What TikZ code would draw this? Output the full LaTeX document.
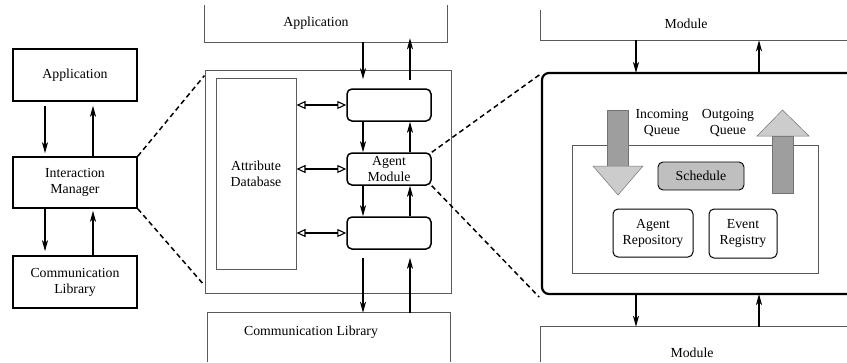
\documentclass[tikz,border=0pt]{standalone}
\usepackage{fontspec}
\setmainfont{Liberation Serif}
\usetikzlibrary{positioning,arrows.meta,calc}

\begin{document}
\begin{tikzpicture}[x=1pt,y=-1pt,
    font=\fontsize{13.8}{16}\selectfont,
    box/.style={draw,line width=1.5pt,align=center,inner sep=0pt},
    thinbox/.style={draw=black!65,line width=1pt,align=center,inner sep=0pt},
    rbox/.style={draw,line width=1.5pt,rounded corners=5pt,align=center,inner sep=0pt},
    openbox/.style={align=center,inner sep=0pt},
    sarr/.style={line width=1.5pt,-{Stealth[length=11pt,width=6pt,inset=3pt]}},
    dbarr/.style={line width=1.1pt,{Triangle[open,length=9pt,width=8pt]}-{Triangle[open,length=9pt,width=8pt]}},
    zoomln/.style={line width=1.5pt,dash pattern=on 5pt off 3.5pt},
    shaft/.style={fill=black!38,draw=black!55,line width=0.5pt},
    head/.style={fill=black!20,draw=black!55,line width=0.5pt}]
  \useasboundingbox (0,0) rectangle (847,362);

  % left column
  \node[box,minimum width=124,minimum height=52] (lapp) at (75,75) {Application};
  \node[box,minimum width=124,minimum height=51] (im) at (75,182.5) {Interaction\\Manager};
  \node[box,minimum width=124,minimum height=52] (lcom) at (75,282) {Communication\\Library};
  \coordinate (ldn) at (45,0);
  \coordinate (lup) at (93,0);
  \draw[sarr,shorten <=4pt,shorten >=3pt] (lapp.south -| ldn) -- (im.north -| ldn);
  \draw[sarr,shorten >=4pt] (im.north -| lup) -- (lapp.south -| lup);
  \draw[sarr,shorten >=4pt] (im.south -| ldn) -- (lcom.north -| ldn);
  \draw[sarr,shorten >=2pt] (lcom.north -| lup) -- (im.south -| lup);

  % middle: interaction manager
  \node[openbox,minimum width=242,minimum height=37,
        label={[xshift=-10pt]center:Application}] (mapp) at (326,23.5) {};
  \draw[thinbox] (mapp.north west) |- (mapp.south east) -- (mapp.north east);
  \node[openbox,minimum width=242,minimum height=49,
        label={[xshift=-18pt,yshift=5pt]center:Communication Library}] (mcom) at (329,337.5) {};
  \draw[thinbox] (mcom.south west) |- (mcom.north east) -- (mcom.south east);

  \node[thinbox,minimum width=246,minimum height=223] (mid) at (328,181.5) {};
  \node[thinbox,minimum width=80,minimum height=191] (adb) at (256,173.5) {Attribute\\Database};
  \node[rbox,minimum width=84,minimum height=32] (ag1) at (389,105) {};
  \node[rbox,minimum width=84,minimum height=32] (agm) at (389,169) {Agent\\Module};
  \node[rbox,minimum width=84,minimum height=32] (ag3) at (389,233) {};

  \coordinate (mdn) at (363,0);
  \coordinate (mup) at (410,0);
  \draw[sarr,shorten >=9pt] (mapp.south -| mdn) -- (ag1.north -| mdn);
  \draw[sarr,shorten <=8pt,shorten >=-4pt] (ag1.north -| mup) -- (mapp.south -| mup);
  \draw[sarr] (ag1.south -| mdn) -- (agm.north -| mdn);
  \draw[sarr] (agm.north -| mup) -- (ag1.south -| mup);
  \draw[sarr] (agm.south -| mdn) -- (ag3.north -| mdn);
  \draw[sarr] (ag3.north -| mup) -- (agm.south -| mup);
  \draw[sarr,shorten <=8pt] (ag3.south -| mdn) -- (mcom.north -| mdn);
  \draw[sarr,shorten >=8pt] (mcom.north -| mup) -- (ag3.south -| mup);

  \draw[dbarr] (adb.east |- ag1) -- (ag1.west);
  \draw[dbarr] (adb.east |- agm) -- (agm.west);
  \draw[dbarr] (adb.east |- ag3) -- (ag3.west);

  \draw[zoomln] (im.north east) -- ([yshift=-6pt]mid.north west);
  \draw[zoomln] (im.south east) -- ([yshift=8pt]mid.south west);

  % right: agent module
  \node[openbox,minimum width=306,minimum height=30,
        label={[xshift=-8pt,yshift=1pt]center:Module}] (rmodt) at (694,25) {};
  \draw[thinbox] (rmodt.north west) |- (rmodt.south east);
  \node[openbox,minimum width=306,minimum height=35,
        label={[xshift=-2pt,yshift=-8.5pt]center:Module}] (rmodb) at (694,344.5) {};
  \draw[thinbox] (rmodb.south west) |- (rmodb.north east);

  \coordinate (rtl) at (542,73);
  \coordinate (rbl) at (542,294);
  \draw[line width=2.2pt,rounded corners=7pt] (847,73) -- (rtl) -- (rbl) -- (847,294);

  \coordinate (rdn) at (636,0);
  \coordinate (rup) at (759,0);
  \draw[sarr] (rmodt.south -| rdn) -- (rtl -| rdn);
  \draw[sarr] (rtl -| rup) -- (rmodt.south -| rup);
  \draw[sarr] (rbl -| rdn) -- (rmodb.north -| rdn);
  \draw[sarr] (rmodb.north -| rup) -- (rbl -| rup);

  \draw[zoomln,shorten >=3pt] (agm.north east) -- (rtl);
  \draw[zoomln,shorten >=4pt] (agm.south east) -- ([yshift=-6pt]rbl);

  \node[thinbox,minimum width=246,minimum height=128] (inr) at (695,209) {};
  \node[align=center] (inq) at (662,123) {Incoming\\Queue};
  \node[align=center] (outq) at (728,123) {Outgoing\\Queue};

  % queue arrows
  \draw[shaft] (607,110) rectangle (628,166);
  \draw[head] (593,166) -- (643,166) -- (618,195) -- cycle;
  \draw[shaft] (772,193) rectangle (793,136);
  \draw[head] (757,136) -- (809,136) -- (782.5,110) -- cycle;

  \node[rbox,fill=black!25,line width=0.9pt,minimum width=86,minimum height=28] (sch) at (701,176) {Schedule};
  \node[rbox,line width=1pt,minimum width=80,minimum height=48] (arep) at (653,233) {Agent\\Repository};
  \node[rbox,line width=1pt,minimum width=68,minimum height=49] (ereg) at (743,233.5) {Event\\Registry};
\end{tikzpicture}
\end{document}
